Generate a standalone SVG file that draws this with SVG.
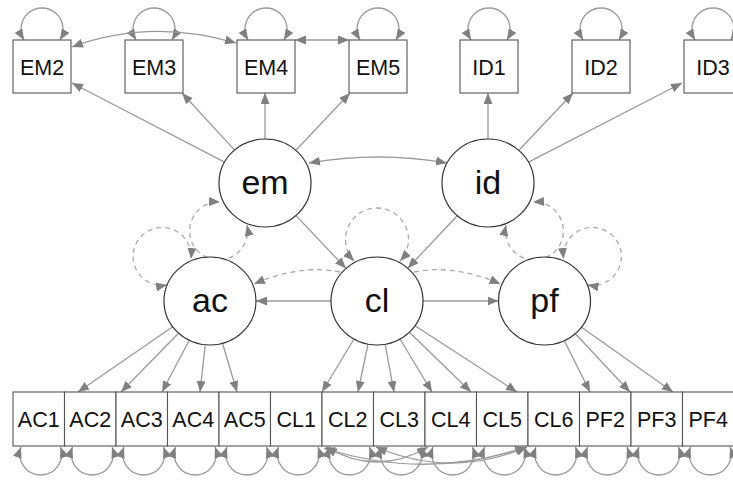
<svg xmlns="http://www.w3.org/2000/svg" width="733" height="480" viewBox="0 0 733 480">
<style>
.e{fill:none;stroke:#9a9a9a;stroke-width:1.3}
.d{fill:none;stroke:#aaaaaa;stroke-width:1.3;stroke-dasharray:5,4}
.a{marker-end:url(#ah)}
.b{marker-start:url(#ah);marker-end:url(#ah)}
.box{fill:#fff;stroke:#555;stroke-width:1.1}
.lat{fill:#fff;stroke:#333;stroke-width:1.2}
.t{font-family:"Liberation Sans",Arial,sans-serif;font-size:21.5px;fill:#111;text-anchor:middle}
.lt{font-family:"Liberation Sans",Arial,sans-serif;font-size:34px;fill:#111;text-anchor:middle}
</style>
<defs>
<marker id="ah" viewBox="0 0 11 9" refX="11" refY="4.5" markerWidth="11" markerHeight="9" markerUnits="userSpaceOnUse" orient="auto-start-reverse"><path d="M0,0 L11,4.5 L0,9 z" fill="#808080"/></marker>
</defs>
<g id="connectors">
<path class="e b" d="M24.1,40 A21,21 0 1 1 59.9,40"/>
<path class="e b" d="M136.1,40 A21,21 0 1 1 171.9,40"/>
<path class="e b" d="M248.1,40 A21,21 0 1 1 283.9,40"/>
<path class="e b" d="M360.1,40 A21,21 0 1 1 395.9,40"/>
<path class="e b" d="M471.1,40 A21,21 0 1 1 506.9,40"/>
<path class="e b" d="M583.1,40 A21,21 0 1 1 618.9,40"/>
<path class="e b" d="M695.1,40 A21,21 0 1 1 730.9,40"/>
<path class="e b" d="M72,47 Q150,18 236,43"/>
<path class="e b" d="M295,40 L349,40"/>
<path class="e a" d="M225,162.3 L72,83"/>
<path class="e a" d="M234.5,149.9 L182,93"/>
<path class="e a" d="M265,139 L265,93"/>
<path class="e a" d="M295.9,150.3 L350,93"/>
<path class="e a" d="M488,139 L488,93"/>
<path class="e a" d="M518.9,150.3 L573,93"/>
<path class="e a" d="M528,162.4 L682,83"/>
<path class="e b" d="M309,163 Q378,151 447,163"/>
<path class="e a" d="M296,215.6 L346,268.4"/>
<path class="e a" d="M457.2,215.8 L407.8,268.2"/>
<path class="e a" d="M331,301 L256,301"/>
<path class="e a" d="M423,301 L498.5,301"/>
<path class="d a" d="M340,272 Q300,264 254,284"/>
<path class="d a" d="M414,272 Q454,264 500.5,284"/>
<path class="d b" d="M247,225 A29,29 0 1 1 220,202"/>
<path class="d b" d="M167,285 A29,29 0 1 1 191,259"/>
<path class="d b" d="M506,225 A29,29 0 1 0 533,202"/>
<path class="d b" d="M587.5,285 A29,29 0 1 0 563.5,259"/>
<path class="d b" d="M354,261 A31.5,31.5 0 1 1 400,261"/>
<path class="e a" d="M173,326.5 L78,392"/>
<path class="e a" d="M178.5,333.2 L121,392"/>
<path class="e a" d="M189,340.8 L162,392"/>
<path class="e a" d="M205.1,345.7 L200,392"/>
<path class="e a" d="M222.8,344.2 L237,392"/>
<path class="e a" d="M353.7,339.5 L322,392"/>
<path class="e a" d="M367.8,345 L358,392"/>
<path class="e a" d="M385.3,345.2 L394,392"/>
<path class="e a" d="M400.3,339.5 L432,392"/>
<path class="e a" d="M409.4,332.3 L471,392"/>
<path class="e a" d="M414.7,325.5 L517,392"/>
<path class="e a" d="M564.6,341.3 L590,392"/>
<path class="e a" d="M575.3,333.8 L630,392"/>
<path class="e a" d="M581.2,327 L673,392"/>
<path class="e b" d="M20.95,447 A21,21 0 1 0 60.55,447"/>
<path class="e b" d="M72.45,447 A21,21 0 1 0 112.05,447"/>
<path class="e b" d="M123.95,447 A21,21 0 1 0 163.55,447"/>
<path class="e b" d="M175.45,447 A21,21 0 1 0 215.05,447"/>
<path class="e b" d="M226.95,447 A21,21 0 1 0 266.55,447"/>
<path class="e b" d="M278.45,447 A21,21 0 1 0 318.05,447"/>
<path class="e b" d="M329.95,447 A21,21 0 1 0 369.55,447"/>
<path class="e b" d="M381.45,447 A21,21 0 1 0 421.05,447"/>
<path class="e b" d="M432.95,447 A21,21 0 1 0 472.55,447"/>
<path class="e b" d="M484.45,447 A21,21 0 1 0 524.05,447"/>
<path class="e b" d="M535.95,447 A21,21 0 1 0 575.55,447"/>
<path class="e b" d="M587.45,447 A21,21 0 1 0 627.05,447"/>
<path class="e b" d="M638.95,447 A21,21 0 1 0 678.55,447"/>
<path class="e b" d="M690.45,447 A21,21 0 1 0 730.05,447"/>
<path class="e b" d="M326,447 Q377,477 428,447"/>
<path class="e b" d="M324,448 Q425,481 526,447"/>
<path class="e b" d="M376,447 Q451,479 527,447"/>
</g>
<g id="EM2"><rect class="box" x="13" y="40" width="58" height="53"/><text class="t" x="42" y="75">EM2</text></g>
<g id="EM3"><rect class="box" x="125" y="40" width="58" height="53"/><text class="t" x="154" y="75">EM3</text></g>
<g id="EM4"><rect class="box" x="237" y="40" width="58" height="53"/><text class="t" x="266" y="75">EM4</text></g>
<g id="EM5"><rect class="box" x="349" y="40" width="58" height="53"/><text class="t" x="378" y="75">EM5</text></g>
<g id="ID1"><rect class="box" x="460" y="40" width="58" height="53"/><text class="t" x="489" y="75">ID1</text></g>
<g id="ID2"><rect class="box" x="572" y="40" width="58" height="53"/><text class="t" x="601" y="75">ID2</text></g>
<g id="ID3"><rect class="box" x="684" y="40" width="58" height="53"/><text class="t" x="713" y="75">ID3</text></g>
<g id="em"><ellipse class="lat" cx="265" cy="183" rx="46" ry="44"/><text class="lt" x="265" y="194">em</text></g>
<g id="id"><ellipse class="lat" cx="488" cy="183" rx="46" ry="44"/><text class="lt" x="488" y="194">id</text></g>
<g id="ac"><ellipse class="lat" cx="210" cy="301" rx="46" ry="44"/><text class="lt" x="210" y="312">ac</text></g>
<g id="cl"><ellipse class="lat" cx="377" cy="301" rx="46" ry="44"/><text class="lt" x="377" y="312">cl</text></g>
<g id="pf"><ellipse class="lat" cx="544.5" cy="301" rx="46" ry="44"/><text class="lt" x="544.5" y="312">pf</text></g>
<g id="AC1"><rect class="box" x="13" y="392" width="51.5" height="54"/><text class="t" x="38.75" y="427">AC1</text></g>
<g id="AC2"><rect class="box" x="64.5" y="392" width="51.5" height="54"/><text class="t" x="90.25" y="427">AC2</text></g>
<g id="AC3"><rect class="box" x="116" y="392" width="51.5" height="54"/><text class="t" x="141.75" y="427">AC3</text></g>
<g id="AC4"><rect class="box" x="167.5" y="392" width="51.5" height="54"/><text class="t" x="193.25" y="427">AC4</text></g>
<g id="AC5"><rect class="box" x="219" y="392" width="51.5" height="54"/><text class="t" x="244.75" y="427">AC5</text></g>
<g id="CL1"><rect class="box" x="270.5" y="392" width="51.5" height="54"/><text class="t" x="296.25" y="427">CL1</text></g>
<g id="CL2"><rect class="box" x="322" y="392" width="51.5" height="54"/><text class="t" x="347.75" y="427">CL2</text></g>
<g id="CL3"><rect class="box" x="373.5" y="392" width="51.5" height="54"/><text class="t" x="399.25" y="427">CL3</text></g>
<g id="CL4"><rect class="box" x="425" y="392" width="51.5" height="54"/><text class="t" x="450.75" y="427">CL4</text></g>
<g id="CL5"><rect class="box" x="476.5" y="392" width="51.5" height="54"/><text class="t" x="502.25" y="427">CL5</text></g>
<g id="CL6"><rect class="box" x="528" y="392" width="51.5" height="54"/><text class="t" x="553.75" y="427">CL6</text></g>
<g id="PF2"><rect class="box" x="579.5" y="392" width="51.5" height="54"/><text class="t" x="605.25" y="427">PF2</text></g>
<g id="PF3"><rect class="box" x="631" y="392" width="51.5" height="54"/><text class="t" x="656.75" y="427">PF3</text></g>
<g id="PF4"><rect class="box" x="682.5" y="392" width="51.5" height="54"/><text class="t" x="708.25" y="427">PF4</text></g>
</svg>
